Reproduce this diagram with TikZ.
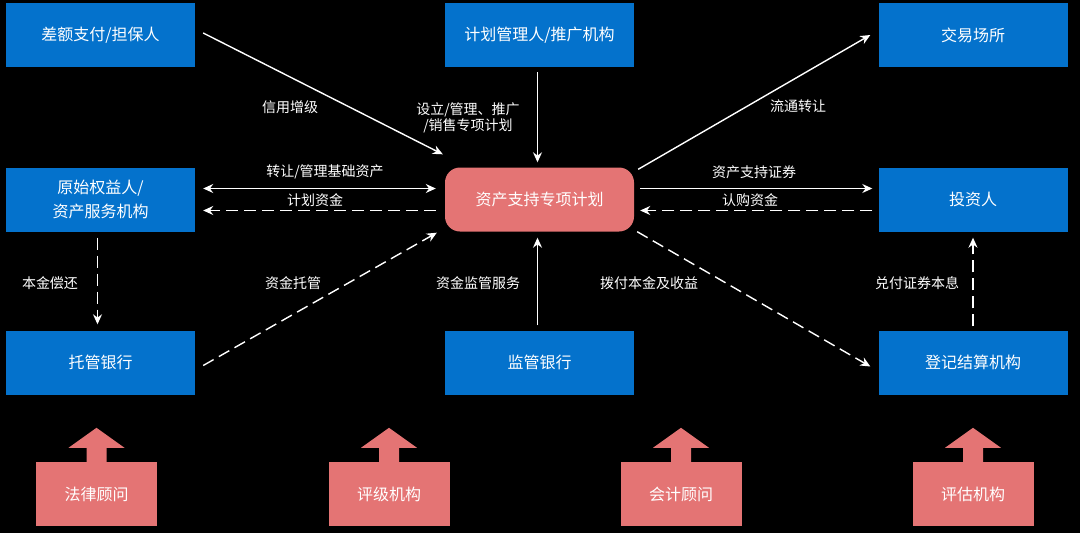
\documentclass[tikz,border=0pt]{standalone}
\usepackage{fontspec}
\setmainfont{Noto Sans CJK SC}
\usepackage{tikz}
\usetikzlibrary{arrows.meta}
\definecolor{boxblue}{RGB}{4,114,204}
\definecolor{planpink}{RGB}{228,116,116}

\begin{document}
\begin{tikzpicture}[x=1pt,y=-1pt,
  party/.style={fill=boxblue,text=white,minimum width=189pt,minimum height=64pt,
    inner sep=0pt,align=center,font=\fontsize{16}{24}\selectfont},
  plan/.style={party,fill=planpink,rounded corners=15pt},
  adviser/.style={party,fill=planpink,minimum width=121pt},
  flow/.style={draw=white,line width=1.4pt,-{Stealth[length=10pt,width=9pt]}},
  cash/.style={flow,dash pattern=on 12pt off 6pt},
  lbl/.style={text=white,inner sep=0pt,align=center,font=\fontsize{14}{16}\selectfont}]
  \fill[black] (0,0) rectangle (1080,533);
  \useasboundingbox (0,0) rectangle (1080,533);

    % Parties
  \node[party] (guar) at (100.5,35)  {差额支付/担保人};
  \node[party] (mgr)  at (539.5,35)  {计划管理人/推广机构};
  \node[party] (exch) at (973,35)    {交易场所};
  \node[party] (orig) at (100.5,199.5) {原始权益人/\\资产服务机构};
  \node[plan]  (spv)  at (539.5,199.5) {资产支持专项计划};
  \node[party] (inv)  at (973,199.5) {投资人};
  \node[party] (cust) at (100.5,362.5) {托管银行};
  \node[party] (sup)  at (539.5,362.5) {监管银行};
  \node[party] (reg)  at (973,362.5) {登记结算机构};

    % Advisers
  \node[adviser] (law)  at (96.5,494) {法律顾问};
  \node[adviser] (rate) at (389,494)  {评级机构};
  \node[adviser] (acct) at (681,494)  {会计顾问};
  \node[adviser] (eval) at (973,494)  {评估机构};
  \foreach \n in {law,rate,acct,eval}
    \fill[planpink] ([xshift=-10pt,yshift=-1pt]\n.north) -- ++(0,15pt) -- ++(-18pt,0)
      -- ++(28pt,20pt) -- ++(28pt,-20pt) -- ++(-18pt,0) -- ++(0,-15pt) -- cycle;

    % Labels
  \node[lbl] (l1)  at (290,107) {信用增级};
  \node[lbl] (l2)  at (468,118) {设立/管理、推广\\/销售专项计划};
  \node[lbl] (l3)  at (798,106) {流通转让};
  \node[lbl] (l4)  at (325,172) {转让/管理基础资产};
  \node[lbl] (l5)  at (315,200) {计划资金};
  \node[lbl] (l6)  at (754,172) {资产支持证券};
  \node[lbl] (l7)  at (750,200) {认购资金};
  \node[lbl] (l8)  at (50,283)  {本金偿还};
  \node[lbl] (l9)  at (293,283) {资金托管};
  \node[lbl] (l10) at (478,283) {资金监管服务};
  \node[lbl] (l11) at (649,283) {拨付本金及收益};
  \node[lbl] (l12) at (917,283) {兑付证券本息};

  \draw [flow] ([xshift=8pt,yshift=2pt]guar.east) to ([xshift=-2pt,yshift=13pt]spv.north west);
  \draw [flow] ([xshift=-2pt,yshift=-5pt]mgr.south) to ([xshift=-2pt,yshift=5pt]spv.north);
  \draw [flow] ([xshift=4pt,yshift=-2pt]spv.north east) to ([xshift=-8pt]exch.west);
  \draw [flow,{Stealth[length=10pt,width=9pt]}-{Stealth[length=10pt,width=9pt]}]
    ([xshift=8pt,yshift=11pt]orig.east) to ([xshift=-9pt,yshift=11pt]spv.west);
  \draw [cash] ([xshift=-9pt,yshift=-11pt]spv.west) to ([xshift=8pt,yshift=-11pt]orig.east);
  \draw [flow] ([xshift=6pt,yshift=11pt]spv.east) to ([xshift=-6pt,yshift=11pt]inv.west);
  \draw [cash] ([xshift=-6pt,yshift=-11pt]inv.west) to ([xshift=6pt,yshift=-11pt]spv.east);
  \draw [cash] ([xshift=-3pt,yshift=-6pt]orig.south) to ([xshift=-3pt,yshift=6pt]cust.north);
  \draw [cash] ([xshift=8pt,yshift=-3pt]cust.east) to ([xshift=-8pt,yshift=-1pt]spv.south west);
  \draw [flow] ([xshift=-2pt,yshift=5pt]sup.north) to ([xshift=-2pt,yshift=-6pt]spv.south);
  \draw [cash] ([xshift=3pt]spv.south east) to ([xshift=-8pt,yshift=-4pt]reg.west);
  \draw [cash] ([yshift=4pt]reg.north) to ([yshift=-6pt]inv.south);

\end{tikzpicture}
\end{document}
